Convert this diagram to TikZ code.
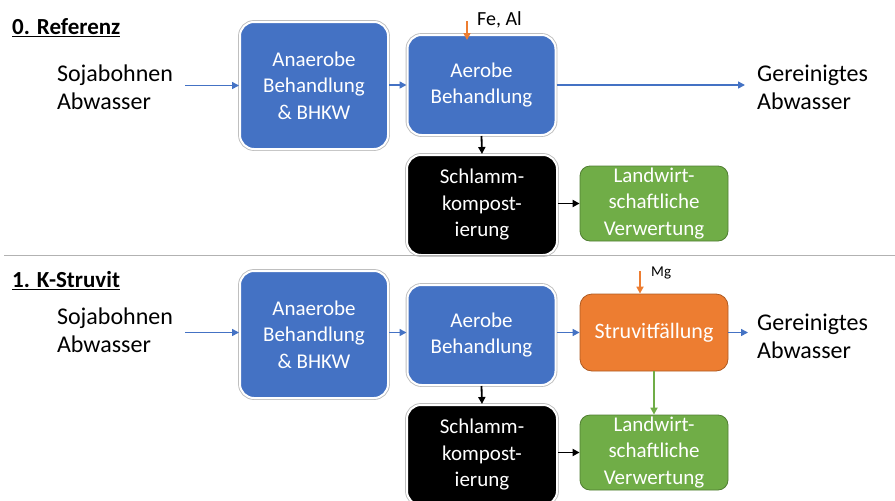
\documentclass[tikz,border=0pt]{standalone}
\usepackage{fontspec}
\setmainfont{Carlito}
\usetikzlibrary{arrows.meta}
\definecolor{cblue}{HTML}{4472C4}
\definecolor{corange}{HTML}{ED7D31}
\definecolor{corangedk}{HTML}{AE5A21}
\definecolor{cgreen}{HTML}{70AD47}
\definecolor{cgreendk}{HTML}{507E32}
\begin{document}
\begin{tikzpicture}[x=1pt,y=-1pt,
  box/.style={rounded corners=14pt, inner sep=0pt, align=center, text=white,
    font=\fontsize{21}{26.5}\selectfont},
  wbox/.style={box, draw=white, line width=2pt, preaction={draw=gray!50, line width=3.8pt}},
  bluebox/.style={wbox, fill=cblue, minimum width=148pt},
  blackbox/.style={wbox, fill=black, minimum width=150pt, minimum height=100pt},
  greenbox/.style={box, fill=cgreen, draw=cgreendk, line width=0.8pt, rounded corners=10pt,
    minimum width=148pt, minimum height=75pt},
  orangebox/.style={box, fill=corange, draw=corangedk, line width=0.8pt, rounded corners=12pt,
    minimum width=148pt, minimum height=77pt},
  plain/.style={inner sep=0pt, align=left, font=\fontsize{24}{28}\selectfont},
  title/.style={inner sep=0pt, anchor=west, font=\fontsize{23}{28}\selectfont\bfseries},
  tip/.style={-{Triangle[length=7pt,width=7pt]}},
  flow/.style={tip, draw=cblue, line width=1.6pt},
  blk/.style={tip, draw=black, line width=1.8pt},
  oarr/.style={tip, draw=corange, line width=1.6pt},
  garr/.style={tip, draw=cgreen, line width=1.6pt},
  sep/.style={draw=gray!60, line width=1pt}
]
\useasboundingbox (0,0) rectangle (895,501);

% ---------------- 0. Referenz ----------------
\node[title] (t0) at (12,28) {\underline{0. Referenz}};
\node[plain] (tin) at (115,87) {Sojabohnen\\Abwasser};
\node[bluebox, minimum height=127pt] (ta) at (314,85.5) {Anaerobe\\Behandlung\\\& BHKW};
\node[bluebox, minimum height=100pt] (tae) at (481.5,85) {Aerobe\\Behandlung};
\node[blackbox] (ts) at (482,205) {Schlamm-\\kompost-\\ierung};
\node[greenbox] (tl) at (654,203.5) {Landwirt-\\schaftliche\\Verwertung};
\node[plain, anchor=west] (tout) at (757,87) {Gereinigtes\\Abwasser};
\coordinate (fe) at (467,21);
\node[inner sep=0pt, anchor=west, font=\fontsize{20}{24}\selectfont] (fel) at (477,20) {Fe, Al};

\draw[flow] ([xshift=12pt]tin.east |- ta.west) -- (ta.west);
\draw[flow] (ta.east |- tae.west) -- (tae.west);
\draw[flow] (tae.east) -- ([xshift=-12pt]tout.west |- tae.east);
\draw[oarr] (fe) -- ([yshift=-6pt]fe |- tae.north);
\draw[blk] (tae.south) -- (ts.north);
\draw[blk] (ts.east |- tl.west) -- (tl.west);

% separator
\coordinate (s1) at (4,255);
\coordinate (s2) at (895,255);
\draw[sep] (s1) -- (s2);

% ---------------- 1. K-Struvit ----------------
\node[title] (t1) at (12,281) {\underline{1. K-Struvit}};
\node[plain] (bin) at (115,330) {Sojabohnen\\Abwasser};
\node[bluebox, minimum height=127pt] (ba) at (314,334.5) {Anaerobe\\Behandlung\\\& BHKW};
\node[bluebox, minimum height=100pt] (bae) at (481.5,335) {Aerobe\\Behandlung};
\node[orangebox, font=\fontsize{22}{26}\selectfont] (bo) at (654,332.5) {Struvitfällung};
\node[blackbox] (bs) at (482,455) {Schlamm-\\kompost-\\ierung};
\node[greenbox] (bl) at (654,452.5) {Landwirt-\\schaftliche\\Verwertung};
\node[plain, anchor=west] (bout) at (757,336) {Gereinigtes\\Abwasser};
\coordinate (mg) at (640,271);
\node[inner sep=0pt, anchor=west, font=\fontsize{15}{18}\selectfont] (mgl) at (651,273) {Mg};

\draw[flow] ([xshift=12pt]bin.east |- bo.west) -- (ba.west |- bo.west);
\draw[flow] (ba.east |- bo.west) -- (bae.west |- bo.west);
\draw[flow] (bae.east |- bo.west) -- (bo.west);
\draw[flow] (bo.east) -- ([xshift=-9pt]bout.west |- bo.east);
\draw[oarr] (mg) -- (mg |- bo.north);
\draw[garr] (bo.south) -- (bl.north);
\draw[blk] (bae.south) -- (bs.north);
\draw[blk] (bs.east |- bl.west) -- (bl.west);
\end{tikzpicture}
\end{document}
